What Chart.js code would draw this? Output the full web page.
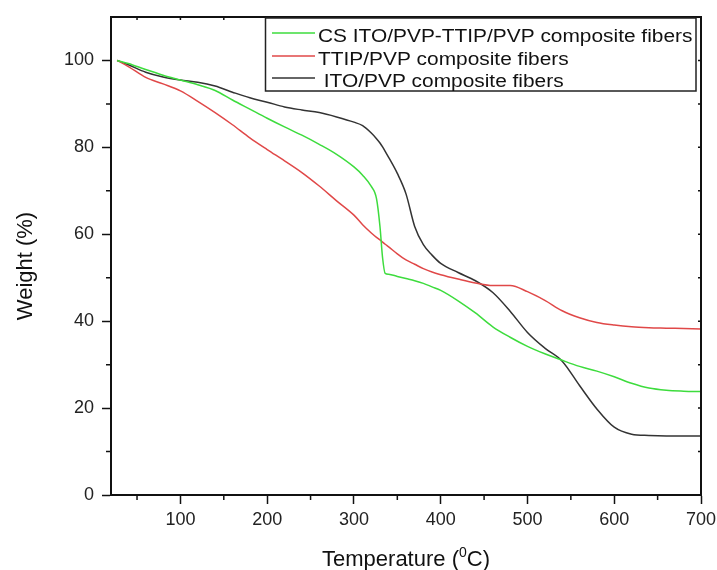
<!DOCTYPE html>
<html>
<head>
<meta charset="utf-8">
<script src="https://cdn.jsdelivr.net/npm/chart.js@4/dist/chart.umd.min.js"></script>
<style>
    body { margin: 0; background: #fff; }
    #chart { display: block; }
</style>
</head>
<body>
<canvas id="chart" width="717" height="570"></canvas>
<script>
// TGA data
const temps = [27, 40, 60, 80, 100, 120, 140, 160, 180, 200, 220, 240, 260, 280, 300, 310, 320, 326, 330, 333,
    336, 340, 350, 360, 370, 380, 390, 400, 420, 440, 460, 480, 500, 520, 540, 560, 580, 600, 620, 640, 660, 680, 700];

const weightCS = [100, 99.3, 97.9, 96.6, 95.5, 94.4, 93.1, 90.9, 88.8, 86.7, 84.7, 82.8, 80.7, 78.4, 75.5, 73.6, 71.0, 68.2, 61.8, 54.6,
    51.0, 50.8, 50.3, 49.8, 49.3, 48.7, 47.9, 47.1, 44.7, 41.9, 38.7, 36.3, 34.2, 32.5, 31.0, 29.6, 28.5, 27.2, 25.7, 24.6, 24.1, 23.9, 23.8];

const weightTTIP = [100, 98.6, 96.1, 94.6, 93.0, 90.6, 88.0, 85.2, 82.2, 79.5, 76.9, 74.2, 71.1, 67.7, 64.4, 62.2, 60.3, 59.3, 58.7, 58.2,
    57.7, 57.1, 55.5, 54.1, 53.1, 52.1, 51.3, 50.7, 49.7, 48.8, 48.2, 48.2, 46.8, 44.8, 42.4, 40.8, 39.7, 39.1, 38.7, 38.5, 38.4, 38.3, 38.2];

const weightITO = [100, 99.0, 97.3, 96.2, 95.5, 95.0, 94.1, 92.7, 91.4, 90.4, 89.3, 88.6, 88.0, 87.0, 85.8, 85.0, 83.3, 82.0, 81.0, 80.1,
    79.1, 77.7, 74.0, 69.3, 61.8, 57.6, 55.2, 53.3, 51.2, 49.3, 46.6, 42.3, 37.4, 33.8, 30.8, 25.2, 19.8, 15.6, 14.0, 13.7, 13.6, 13.6, 13.6];

const seriesLabels = ['CS ITO/PVP-TTIP/PVP composite fibers', 'TTIP/PVP composite fibers', ' ITO/PVP composite fibers'];
const seriesColors = ['#3ddc3d', '#e04848', '#333333'];

const xMajorTicks = [100, 200, 300, 400, 500, 600, 700];
const xMinorTicks = [50, 150, 250, 350, 450, 550, 650];
const yMajorTicks = [0, 20, 40, 60, 80, 100];
const yMinorTicks = [10, 30, 50, 70, 90];

const FONT = "'Liberation Sans', Arial, sans-serif";

function points(ys) {
    return temps.map((t, i) => ({ x: t, y: ys[i] }));
}

// frame, minor ticks, legend box and axis titles
const decorations = {
    id: 'decorations',
    afterDraw(chart) {
        const ctx = chart.ctx;
        const area = chart.chartArea;
        const xs = chart.scales.x;
        const ys = chart.scales.y;
        ctx.save();
        ctx.strokeStyle = '#111';

        // top and right frame
        ctx.lineWidth = 2;
        ctx.beginPath();
        ctx.moveTo(area.left, area.top);
        ctx.lineTo(area.right, area.top);
        ctx.lineTo(area.right, area.bottom);
        ctx.stroke();

        // minor ticks outward, small inward ticks on top/right
        ctx.lineWidth = 1.5;
        ctx.beginPath();
        xMinorTicks.forEach(v => {
            const px = xs.getPixelForValue(v);
            ctx.moveTo(px, area.bottom);
            ctx.lineTo(px, area.bottom + 5);
        });
        xMinorTicks.concat(xMajorTicks).forEach(v => {
            const px = xs.getPixelForValue(v);
            ctx.moveTo(px, area.top);
            ctx.lineTo(px, area.top + 3);
        });
        yMinorTicks.forEach(v => {
            const py = ys.getPixelForValue(v);
            ctx.moveTo(area.left, py);
            ctx.lineTo(area.left - 5, py);
        });
        yMinorTicks.concat(yMajorTicks).forEach(v => {
            const py = ys.getPixelForValue(v);
            ctx.moveTo(area.right, py);
            ctx.lineTo(area.right - 3, py);
        });
        ctx.stroke();

        // legend
        const box = { left: 265.5, top: 18, right: 696, bottom: 91 };
        ctx.fillStyle = '#fff';
        ctx.fillRect(box.left, box.top, box.right - box.left, box.bottom - box.top);
        ctx.lineWidth = 1.5;
        ctx.strokeStyle = '#222';
        ctx.strokeRect(box.left, box.top, box.right - box.left, box.bottom - box.top);
        const rowY = [37, 60, 82];
        chart.data.datasets.forEach((ds, i) => {
            ctx.strokeStyle = ds.borderColor;
            ctx.lineWidth = 1.5;
            ctx.beginPath();
            ctx.moveTo(272, rowY[i] - 4);
            ctx.lineTo(315, rowY[i] - 4);
            ctx.stroke();
            ctx.save();
            ctx.translate(318, rowY[i]);
            ctx.scale(1.16, 1);
            ctx.fillStyle = '#111';
            ctx.font = '18px ' + FONT;
            ctx.textAlign = 'left';
            ctx.textBaseline = 'middle';
            ctx.fillText(ds.label, 0, 0);
            ctx.restore();
        });

        // y title
        ctx.fillStyle = '#111';
        ctx.save();
        ctx.translate(26, 266);
        ctx.rotate(-Math.PI / 2);
        ctx.font = '22px ' + FONT;
        ctx.textAlign = 'center';
        ctx.textBaseline = 'middle';
        ctx.fillText('Weight (%)', 0, 0);
        ctx.restore();

        // x title with superscript 0
        const head = 'Temperature (';
        const sup = '0';
        const tail = 'C)';
        ctx.font = '22px ' + FONT;
        const wHead = ctx.measureText(head).width;
        const wTail = ctx.measureText(tail).width;
        ctx.font = '14px ' + FONT;
        const wSup = ctx.measureText(sup).width;
        const total = wHead + wSup + wTail;
        let x0 = (area.left + area.right) / 2 - total / 2;
        const base = 566;
        ctx.textAlign = 'left';
        ctx.textBaseline = 'alphabetic';
        ctx.font = '22px ' + FONT;
        ctx.fillText(head, x0, base);
        ctx.font = '14px ' + FONT;
        ctx.fillText(sup, x0 + wHead, base - 9);
        ctx.font = '22px ' + FONT;
        ctx.fillText(tail, x0 + wHead + wSup, base);

        ctx.restore();
    }
};

const ctx = document.getElementById('chart').getContext('2d');
const tgaChart = new Chart(ctx, {
    type: 'line',
    data: {
        datasets: [
            { label: seriesLabels[0], data: points(weightCS), borderColor: seriesColors[0] },
            { label: seriesLabels[1], data: points(weightTTIP), borderColor: seriesColors[1] },
            { label: seriesLabels[2], data: points(weightITO), borderColor: seriesColors[2] }
        ].map(ds => Object.assign(ds, {
            borderWidth: 1.5,
            pointRadius: 0,
            fill: false,
            cubicInterpolationMode: 'monotone'
        }))
    },
    options: {
        responsive: false,
        animation: false,
        layout: { padding: { left: 0, right: 16, top: 17, bottom: 0 } },
        plugins: {
            legend: { display: false },
            tooltip: { enabled: false }
        },
        scales: {
            x: {
                type: 'linear',
                min: 20,
                max: 700,
                afterBuildTicks: scale => {
                    scale.ticks = xMajorTicks.map(v => ({ value: v }));
                },
                afterFit: scale => {
                    scale.height = 75;
                    scale.paddingLeft = 0;
                    scale.paddingRight = 0;
                },
                ticks: {
                    color: '#222',
                    font: { family: FONT, size: 18 },
                    padding: 5,
                    maxRotation: 0
                },
                grid: {
                    drawOnChartArea: false,
                    tickLength: 9,
                    tickWidth: 1.5,
                    tickColor: '#111'
                },
                border: { color: '#111', width: 2 }
            },
            y: {
                min: 0,
                max: 110,
                afterBuildTicks: scale => {
                    scale.ticks = yMajorTicks.map(v => ({ value: v }));
                },
                afterFit: scale => {
                    scale.width = 111;
                    scale.paddingTop = 0;
                    scale.paddingBottom = 0;
                },
                ticks: {
                    color: '#222',
                    font: { family: FONT, size: 18 },
                    padding: 8
                },
                grid: {
                    drawOnChartArea: false,
                    tickLength: 9,
                    tickWidth: 1.5,
                    tickColor: '#111'
                },
                border: { color: '#111', width: 2 }
            }
        }
    },
    plugins: [decorations]
});
</script>
</body>
</html>
